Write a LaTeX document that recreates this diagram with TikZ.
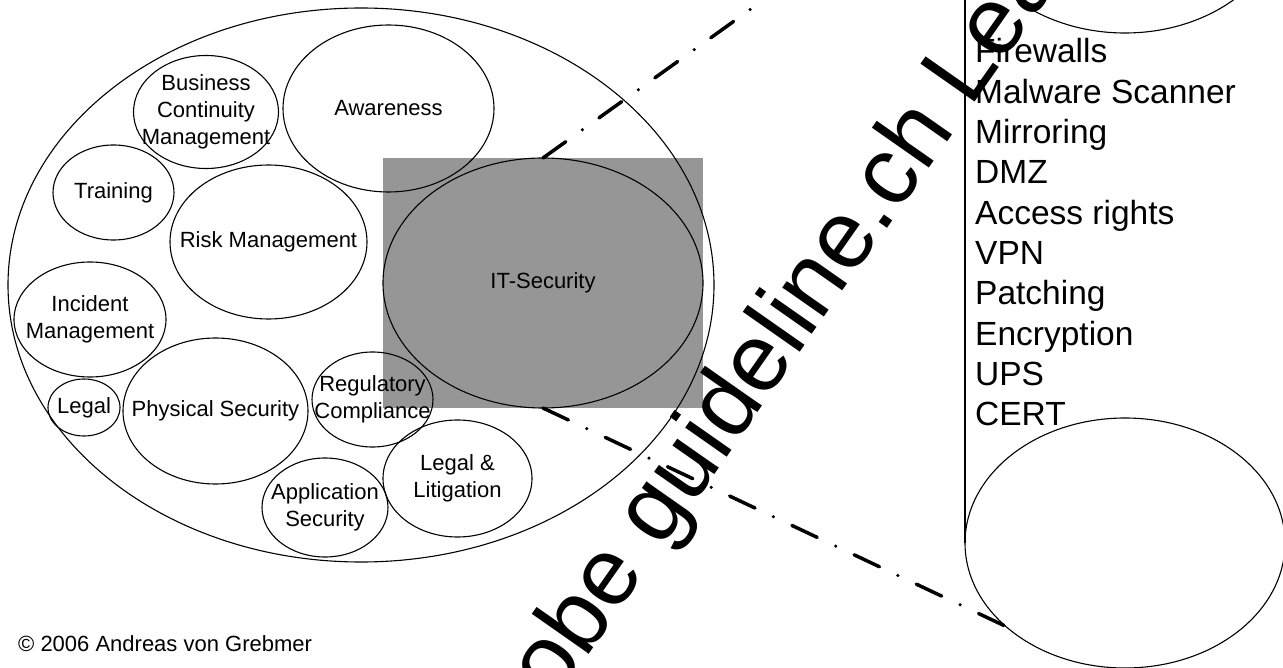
\documentclass[tikz,border=0pt]{standalone}
\usepackage{fontspec}
\setmainfont{Liberation Sans}
\usetikzlibrary{shapes.geometric}
\definecolor{itgray}{RGB}{150,150,150}
\tikzset{
  area/.style={draw, ellipse, line width=1.1pt, inner sep=0pt, outer sep=0pt},
  lbl/.style={align=center, inner sep=0pt, font=\fontsize{22}{27}\selectfont},
  zoomline/.style={line width=3.5pt, line cap=round,
    dash pattern=on 28pt off 20.4pt on 0pt off 20.4pt},
  item/.style={anchor=base west, inner sep=0pt, font=\fontsize{33.5}{40}\selectfont},
}
\begin{document}
\begin{tikzpicture}[x=1pt,y=-1pt]
\useasboundingbox (0,0) rectangle (1283,668);
\clip (0,0) rectangle (1283,668);
\fill[white] (0,0) rectangle (1283,668);

% highlighted area behind IT-Security
\node[fill=itgray, minimum width=320pt, minimum height=250pt, inner sep=0pt, outer sep=0pt] (frame) at (543,283) {};

% overall security domain
\node[area, minimum width=706pt, minimum height=554pt] (domain) at (361,285) {};

% sub-areas
\node[area, minimum width=145pt, minimum height=113pt] (bcm) at (206,112) {};
\node[lbl] at (bcm) {Business\\Continuity\\Management};
\node[area, minimum width=211pt, minimum height=167pt] (aware) at (388.5,108.5) {};
\node[lbl] at (aware) {Awareness};
\node[area, minimum width=121pt, minimum height=95pt] (train) at (113.5,192.5) {};
\node[lbl] at (train) {Training};
\node[area, minimum width=197pt, minimum height=154pt] (risk) at (268.5,242) {};
\node[lbl] at (risk) {Risk Management};
\node[area, minimum width=152pt, minimum height=115pt] (incident) at (90,319.5) {};
\node[lbl] at (incident) {Incident\\Management};
\node[area, minimum width=72pt, minimum height=57pt] (legal) at (84,407.5) {};
\node[lbl] at (legal) {Legal};
\node[area, minimum width=185pt, minimum height=146pt] (phys) at (215.5,411) {};
\node[lbl] at (phys) {Physical Security};
\node[area, minimum width=121pt, minimum height=95pt] (reg) at (372.5,399.5) {};
\node[lbl] at (reg) {Regulatory\\Compliance};
\node[area, minimum width=126pt, minimum height=99pt] (app) at (325,507.5) {};
\node[lbl] at (app) {Application\\Security};
\node[area, minimum width=149pt, minimum height=117pt] (lit) at (457.5,478.5) {};
\node[lbl] at (lit) {Legal \&\\Litigation};

% IT-Security
\node[area, minimum width=320pt, minimum height=250pt] (it) at (543,283) {};
\node[lbl] at (it) {IT-Security};

% enlarged IT-Security as a cylinder
\node[area, minimum width=320pt, minimum height=250pt] (cyltop) at (1125,-92) {};
\node[area, minimum width=320pt, minimum height=250pt] (cylbot) at (1125,543) {};
\draw[line width=1.1pt] (cyltop.west) -- (cylbot.west);

% zoom connectors
\coordinate (topHit) at (1005,-173);
\coordinate (botHit) at (1005,626);
\draw[zoomline] (it.north) -- (topHit);
\draw[zoomline] (it.south) -- (botHit);

% IT-Security measures
\foreach \t [count=\i] in {Firewalls, Malware Scanner, Mirroring, DMZ, Access rights,
  VPN, Patching, Encryption, UPS, CERT}
  \node[item] (item\i) at (975, {63+40.3*(\i-1)}) {\t};

% copyright
\node[anchor=base west, inner sep=0pt, font=\fontsize{22}{26}\selectfont] (copy) at (18,651) {© 2006 Andreas von Grebmer};

% watermark
\node[rotate=55, anchor=base west, inner sep=0pt, font=\fontsize{96}{96}\selectfont] (mark) at (554.6,702.9) {obe guideline.ch Lea};
\end{tikzpicture}
\end{document}
